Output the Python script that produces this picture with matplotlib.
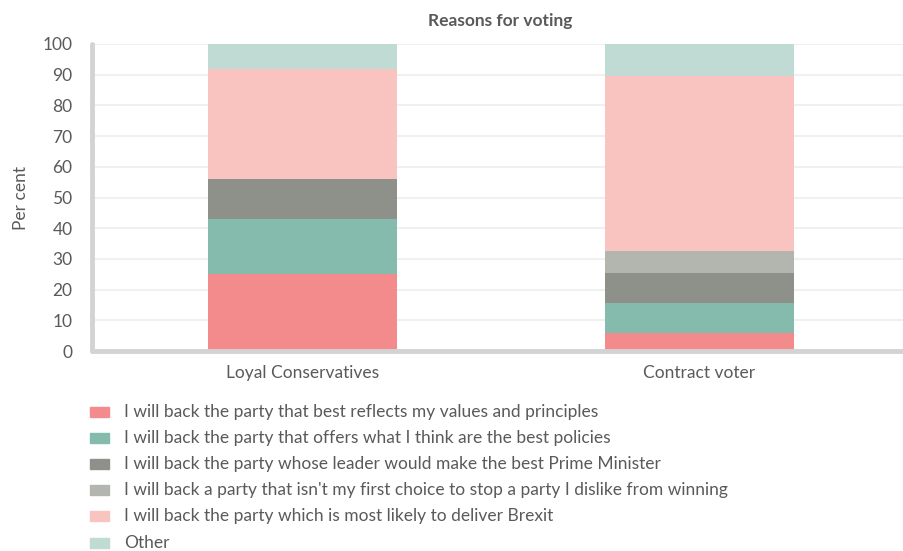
import matplotlib.pyplot as plt
from matplotlib.patches import Rectangle

plt.rcParams['font.family'] = ['Lato', 'DejaVu Sans']

groups = ["Loyal Conservatives", "Contract voter"]
reasons = [
    "I will back the party that best reflects my values and principles",
    "I will back the party that offers what I think are the best policies",
    "I will back the party whose leader would make the best Prime Minister",
    "I will back a party that isn't my first choice to stop a party I dislike from winning",
    "I will back the party which is most likely to deliver Brexit",
    "Other",
]
# per cent of each group, one list per reason (same order as groups)
values = [
    [25, 6],
    [18, 9.5],
    [13, 10],
    [0, 7],
    [36, 57],
    [8, 10.5],
]
colors = ["#f38b8c", "#85bbad", "#8d918a", "#b3b5af", "#f9c3c0", "#c0dbd3"]
text_col = "#5a5a5a"
fs = 12.5

fig = plt.figure(figsize=(9.04, 5.51), dpi=100)
ax = fig.add_axes([92 / 904, 1 - 351 / 551, 1 - 92 / 904, (351 - 44) / 551])

x = [0, 1]
bottom = [0, 0]
for vals, col, lab in zip(values, colors, reasons):
    ax.bar(x, vals, width=0.476, bottom=bottom, color=col, label=lab, zorder=2)
    bottom = [b + v for b, v in zip(bottom, vals)]

ax.set_xlim(-0.53, 1.515)
ax.set_ylim(0, 100)
ax.set_yticks(range(0, 101, 10))
ax.set_xticks(x)
ax.set_xticklabels(groups)
ax.tick_params(axis="both", length=0, labelsize=fs, colors=text_col)
ax.tick_params(axis="y", pad=14)
ax.tick_params(axis="x", pad=10)
ax.yaxis.grid(True, color="#f0f0f0", linewidth=1.5, zorder=0)
ax.set_axisbelow(True)

for side in ("top", "right"):
    ax.spines[side].set_visible(False)
for side in ("left", "bottom"):
    ax.spines[side].set_color("#d3d3d3")
    ax.spines[side].set_linewidth(3.5)
    ax.spines[side].set_capstyle("round")

ax.set_ylabel("Per cent", color=text_col, fontsize=fs, labelpad=10)
ax.set_title("Reasons for voting", fontsize=fs, fontweight="bold",
             color=text_col, pad=13, x=(500 - 92) / 812)

# legend drawn as swatches + text under the plot
for i, (lab, col) in enumerate(zip(reasons, colors)):
    yc = 1 - (411.5 + i * 26.2) / 551
    fig.patches.append(Rectangle((90 / 904, yc - 5 / 551), 19 / 904, 10 / 551,
                                 transform=fig.transFigure, color=col))
    fig.text(124 / 904, yc, lab, fontsize=fs, color=text_col, va="center")

fig.savefig("out.png", dpi=100)
